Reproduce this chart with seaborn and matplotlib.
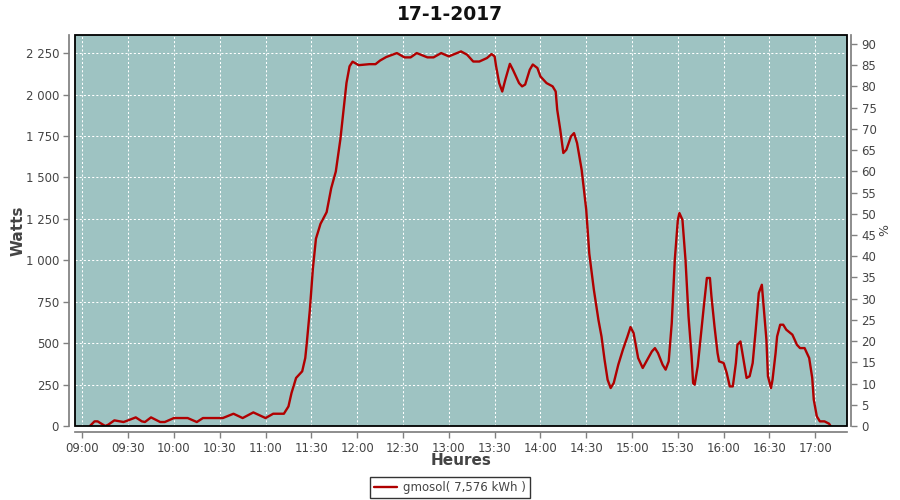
# Production solaire du 17-1-2017 (courbe gmosol), style JFreeChart
import pandas as pd
import numpy as np
import seaborn as sns
import matplotlib
matplotlib.use("Agg")
import matplotlib.pyplot as plt
import matplotlib.dates as mdates
from matplotlib.ticker import FuncFormatter, MultipleLocator
from matplotlib.patches import Rectangle

# donnees
heures = [
    "09:05", "09:08", "09:10", "09:15", "09:17", "09:21", "09:27", "09:30", "09:35", "09:39",
    "09:41", "09:45", "09:51", "09:54", "10:00", "10:09", "10:15", "10:19", "10:32", "10:39",
    "10:45", "10:52", "11:00", "11:05", "11:12", "11:15", "11:17", "11:20", "11:24", "11:26",
    "11:27", "11:29", "11:31", "11:33", "11:36", "11:40", "11:43", "11:46", "11:49", "11:51",
    "11:53", "11:55", "11:57", "12:01", "12:08", "12:12", "12:15", "12:19", "12:26", "12:31",
    "12:35", "12:39", "12:46", "12:50", "12:55", "13:00", "13:08", "13:12", "13:16", "13:20",
    "13:25", "13:28", "13:30", "13:31", "13:33", "13:35", "13:37", "13:40", "13:42", "13:46",
    "13:48", "13:50", "13:53", "13:55", "13:58", "14:00", "14:04", "14:08", "14:10", "14:11",
    "14:13", "14:15", "14:17", "14:20", "14:22", "14:24", "14:27", "14:30", "14:32", "14:35",
    "14:38", "14:40", "14:42", "14:44", "14:46", "14:48", "14:51", "14:54", "14:57", "14:59",
    "15:01", "15:04", "15:07", "15:10", "15:13", "15:15", "15:17", "15:20", "15:22", "15:24",
    "15:26", "15:28", "15:30", "15:31", "15:33", "15:35", "15:37", "15:39", "15:40", "15:41",
    "15:43", "15:45", "15:47", "15:49", "15:51", "15:52", "15:54", "15:56", "15:57", "16:00",
    "16:02", "16:04", "16:06", "16:08", "16:09", "16:11", "16:13", "16:15", "16:17", "16:19",
    "16:21", "16:23", "16:25", "16:26", "16:28", "16:29", "16:31", "16:32", "16:34", "16:35",
    "16:37", "16:39", "16:41", "16:45", "16:48", "16:50", "16:53", "16:56", "16:58", "16:59",
    "17:01", "17:03", "17:06", "17:09", "17:10",
]
watts = [
    0, 28, 28, 0, 8, 34, 24, 34, 52, 28,
    24, 52, 24, 24, 48, 48, 24, 48, 48, 74,
    48, 82, 48, 74, 74, 118, 199, 290, 330, 410,
    500, 700, 950, 1130, 1220, 1290, 1435, 1535, 1730, 1900,
    2070, 2170, 2198, 2177, 2183, 2183, 2205, 2226, 2250, 2224,
    2224, 2250, 2224, 2224, 2250, 2230, 2260, 2240, 2199, 2199,
    2220, 2244, 2230, 2169, 2069, 2018, 2089, 2185, 2149, 2069,
    2049, 2060, 2149, 2181, 2160, 2109, 2069, 2049, 2018, 1908,
    1787, 1647, 1667, 1747, 1767, 1707, 1546, 1305, 1040, 822,
    640, 540, 400, 279, 229, 259, 370, 460, 540, 597,
    561, 410, 350, 400, 450, 470, 440, 370, 340, 390,
    621, 1003, 1244, 1285, 1244, 1003, 661, 420, 259, 249,
    360, 540, 721, 893, 893, 782, 601, 440, 390, 380,
    320, 239, 239, 380, 490, 510, 400, 290, 300, 380,
    581, 802, 852, 742, 520, 300, 229, 279, 440, 540,
    611, 611, 581, 551, 490, 470, 470, 410, 290, 159,
    58, 28, 28, 14, 0,
]
titre = "17-1-2017"
serie = "gmosol( 7,576 kWh )"

df = pd.DataFrame({
    "heure": pd.to_datetime("2017-01-17 " + pd.Series(heures)),
    "watts": watts,
})

sns.set_theme(style="ticks")
plt.rcParams['font.family'] = ['DejaVu Sans']

fig = plt.figure(figsize=(9, 5), dpi=100)
ax = fig.add_axes([75 / 900, 74 / 500, 772 / 900, 391 / 500])
ax.set_facecolor("#9ec3c2")

sns.lineplot(data=df, x="heure", y="watts", ax=ax, color="#b00000",
             linewidth=1.7, label=serie, zorder=3)

ax.set_xlim(pd.Timestamp("2017-01-17 08:55:13"), pd.Timestamp("2017-01-17 17:20:46"))
ax.set_ylim(0, 2359)
ax.yaxis.set_major_locator(MultipleLocator(250))
ax.yaxis.set_major_formatter(FuncFormatter(lambda v, _: f"{int(v):,}".replace(",", " ")))
ax.xaxis.set_major_locator(mdates.MinuteLocator(byminute=[0, 30]))
ax.xaxis.set_major_formatter(mdates.DateFormatter("%H:%M"))

ax.grid(True, color="white", linestyle=(0, (2, 2)), linewidth=0.75)
ax.set_axisbelow(True)

gris = "#808080"
texte = "#444444"
for s in ["top", "right"]:
    ax.spines[s].set_visible(False)
ax.spines["left"].set_position(("outward", 4))
ax.spines["bottom"].set_position(("outward", 4))
ax.spines["left"].set_color(gris)
ax.spines["bottom"].set_color(gris)
ax.tick_params(axis="both", colors=gris, labelcolor=texte, labelsize=8.5, length=4, width=1)

ax.set_xlabel("Heures", fontsize=11, fontweight="bold", color=texte)
ax.set_ylabel("Watts", fontsize=11, fontweight="bold", color=texte)
ax.xaxis.set_label_coords(0.5, -0.07)
ax.yaxis.set_label_coords(-0.064, 0.5)

# axe de droite en %
ax2 = ax.twinx()
ax2.set_ylim(0, 92.1)
ax2.yaxis.set_major_locator(MultipleLocator(5))
for s in ["top", "left", "bottom"]:
    ax2.spines[s].set_visible(False)
ax2.spines["right"].set_position(("outward", 3))
ax2.spines["right"].set_color(gris)
ax2.tick_params(axis="y", colors=gris, labelcolor=texte, labelsize=8.5, length=4, width=1)
ax2.set_ylabel("%", fontsize=9, color=texte)
ax2.yaxis.set_label_coords(1.04, 0.5)

# cadre noir du graphique
ax2.add_patch(Rectangle((0, 0), 1, 1, transform=ax.transAxes, fill=False,
                        edgecolor="black", linewidth=1.3, zorder=10, clip_on=False))

handles, labels = ax.get_legend_handles_labels()
ax.get_legend().remove()
fig.legend(handles, labels, loc="center", bbox_to_anchor=(0.5, 0.025), frameon=True,
           fancybox=False, edgecolor="black", fontsize=8.5, handlelength=2,
           borderpad=0.3, handletextpad=0.5, labelcolor=texte).get_frame().set_linewidth(1)

fig.text(0.5, 0.972, titre, ha="center", va="center", fontsize=13.5,
         fontweight="bold", color="#111111")

fig.savefig("out.png", dpi=100)
